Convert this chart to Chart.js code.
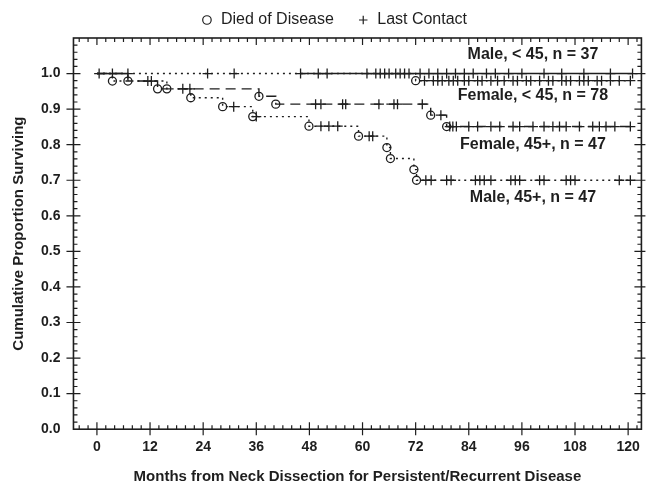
<!DOCTYPE html>
<html>
<head>
<meta charset="utf-8">
<script src="https://cdn.jsdelivr.net/npm/chart.js@4.4.1/dist/chart.umd.min.js"></script>
<style>
  html, body { margin: 0; padding: 0; background: #fff; }
</style>
</head>
<body>
<canvas id="kmChart" width="650" height="486"></canvas>
<script>
// TICK LABELS
const xTicks = [0, 12, 24, 36, 48, 60, 72, 84, 96, 108, 120];
const yTicks = [0, 0.1, 0.2, 0.3, 0.4, 0.5, 0.6, 0.7, 0.8, 0.9, 1.0];

// GROUP NAMES (DRAWN NEXT TO THE CURVES)
const groupNames = ['Male, < 45, n = 37', 'Female, < 45, n = 78', 'Female, 45+, n = 47', 'Male, 45+, n = 47'];

// MALE < 45 : NO DEATHS, ONLY LAST CONTACTS
const maleYoungDeathT = [];
const maleYoungDeathS = [];
const maleYoungCensorT = [0.5, 3.5, 7, 46, 50, 52, 61, 63, 64, 65, 66, 67.5, 68.5, 69.5, 70.5,
  73, 75, 77, 79, 81, 83, 85, 88, 90, 93, 96, 101, 105, 110, 116, 121];

// FEMALE < 45
const femaleYoungDeathT = [72];
const femaleYoungDeathS = [0.98];
const femaleYoungCensorT = [25, 31, 74, 76, 77, 78, 79.5, 80.5, 81.5, 83, 84, 86, 87, 89, 90.5, 92, 94, 95,
  97, 98, 100, 102, 103, 105, 106, 107, 109, 110, 111, 113, 114, 116, 118, 120.5];

// FEMALE 45+
const femaleOldDeathT = [7, 13.7, 36.6, 40.4, 75.4, 79];
const femaleOldDeathS = [0.979, 0.957, 0.936, 0.914, 0.883, 0.851];
const femaleOldCensorT = [11.5, 12.3, 19.4, 21, 49.4, 50.6, 55.5, 56.2, 63.7, 67.1, 67.9, 73.5, 77.7,
  79.7, 80.4, 81.2, 84, 86, 89, 91, 94, 95.5, 98.5, 101, 103, 104.5, 106, 109, 112, 113.5, 115, 117, 120.5];

// MALE 45+
const maleOldDeathT = [3.5, 15.8, 21.2, 28.4, 35.2, 47.9, 59.1, 65.5, 66.3, 71.6, 72.2];
const maleOldDeathS = [0.979, 0.957, 0.932, 0.907, 0.879, 0.852, 0.824, 0.792, 0.761, 0.730, 0.700];
const maleOldCensorT = [30.9, 36, 50.6, 52.4, 54.4, 61.5, 62.3, 74.3, 75.5, 79, 80, 85.5, 86.5, 87.5, 89,
  93.5, 94.5, 95.5, 100, 101, 106, 107, 108, 118, 120.5];

// PART OF THE MALE < 45 LINE THAT IS NOT VISIBLE IN THE ORIGINAL
const maleYoungHidden = [7, 46];

const fontFamily = '"Liberation Sans", Arial, Helvetica, sans-serif';
const ink = '#1e1e1e';

// BUILD KAPLAN-MEIER POINTS: DEATHS SET THE LEVEL, CENSORS SIT ON THE CURRENT LEVEL
function kmPoints(deathT, deathS, censorT) {
  const pts = [{ x: 0, y: 1, kind: 's' }];
  deathT.forEach((t, i) => pts.push({ x: t, y: deathS[i], kind: 'd' }));
  censorT.forEach(t => pts.push({ x: t, y: null, kind: 'c' }));
  pts.sort((a, b) => a.x - b.x);
  let level = 1;
  pts.forEach(p => {
    if (p.kind === 'd') level = p.y;
    else if (p.kind === 'c') p.y = level;
  });
  return pts;
}

function kmDataset(label, pts, dash, extra) {
  return Object.assign({
    label,
    data: pts,
    stepped: 'before',
    borderColor: ink,
    borderWidth: 1.4,
    borderDash: dash,
    fill: false,
    pointStyle: c => c.raw.kind === 'd' ? 'circle' : (c.raw.kind === 'c' ? 'cross' : false),
    pointRadius: c => c.raw.kind === 'd' ? 4 : (c.raw.kind === 'c' ? 5 : 0),
    pointBorderColor: ink,
    pointBackgroundColor: 'rgba(0,0,0,0)',
    pointBorderWidth: 1.3,
  }, extra || {});
}

// NUDGE THE LEGEND A LITTLE TO THE RIGHT, LIKE THE ORIGINAL
const legendShift = {
  id: 'legendShift',
  afterLayout(chart) {
    if (chart.legend) {
      chart.legend.left += 13;
      chart.legend.right += 13;
    }
  }
};

// FRAME + TICK MARKS ON ALL FOUR SIDES
const frameTicks = {
  id: 'frameTicks',
  afterDatasetsDraw(chart) {
    const { ctx, chartArea: a, scales: { x, y } } = chart;
    ctx.save();
    ctx.strokeStyle = ink;
    ctx.lineWidth = 1.6;
    ctx.strokeRect(a.left, a.top, a.right - a.left, a.bottom - a.top);
    ctx.lineWidth = 1.2;
    ctx.beginPath();
    for (let m = -4; m <= 122; m += 2) {
      const px = x.getPixelForValue(m);
      const major = m % 12 === 0 && m >= 0;
      ctx.moveTo(px, a.bottom + (major ? 6 : 0));
      ctx.lineTo(px, a.bottom - (major ? 7 : 4));
      ctx.moveTo(px, a.top);
      ctx.lineTo(px, a.top + (major ? 7 : 4));
    }
    for (let k = 1; k <= 54; k++) {
      const v = k * 0.02;
      const py = y.getPixelForValue(v);
      const major = k % 5 === 0 && k <= 50;
      ctx.moveTo(a.left - (major ? 7 : 0), py);
      ctx.lineTo(a.left + (major ? 7 : 4), py);
      ctx.moveTo(a.right + (major ? 4 : 0), py);
      ctx.lineTo(a.right - (major ? 7 : 4), py);
    }
    ctx.stroke();

    // GROUP NAMES
    const labelX = 98.5;
    const labelY = [1.052, 0.937, 0.801, 0.652];
    ctx.fillStyle = ink;
    ctx.font = 'bold 16px ' + fontFamily;
    ctx.textAlign = 'center';
    ctx.textBaseline = 'middle';
    groupNames.forEach((g, i) => {
      ctx.fillText(g, x.getPixelForValue(labelX), y.getPixelForValue(labelY[i]));
    });
    ctx.restore();
  }
};

const ctx = document.getElementById('kmChart').getContext('2d');
new Chart(ctx, {
  type: 'line',
  data: {
    datasets: [
      kmDataset(groupNames[0], kmPoints(maleYoungDeathT, maleYoungDeathS, maleYoungCensorT), [], {
        segment: {
          borderColor: c => (c.p0.parsed.x >= maleYoungHidden[0] && c.p1.parsed.x <= maleYoungHidden[1]) ? 'rgba(0,0,0,0)' : undefined
        }
      }),
      kmDataset(groupNames[1], kmPoints(femaleYoungDeathT, femaleYoungDeathS, femaleYoungCensorT), [2, 4]),
      kmDataset(groupNames[2], kmPoints(femaleOldDeathT, femaleOldDeathS, femaleOldCensorT), [10, 6]),
      kmDataset(groupNames[3], kmPoints(maleOldDeathT, maleOldDeathS, maleOldCensorT), [2, 4])
    ]
  },
  options: {
    responsive: false,
    animation: false,
    layout: { padding: { left: 0, right: 8, top: 2, bottom: 0 } },
    plugins: {
      tooltip: { enabled: false },
      legend: {
        position: 'top',
        labels: {
          usePointStyle: true,
          boxWidth: 12,
          boxHeight: 6,
          padding: 10,
          color: ink,
          font: { family: fontFamily, size: 16 },
          generateLabels: () => [
            { text: 'Died of Disease\u00a0\u00a0\u00a0', pointStyle: 'circle', fillStyle: 'rgba(0,0,0,0)', strokeStyle: ink, lineWidth: 1.2, fontColor: ink },
            { text: 'Last Contact', pointStyle: 'cross', fillStyle: 'rgba(0,0,0,0)', strokeStyle: ink, lineWidth: 1.2, fontColor: ink }
          ]
        }
      }
    },
    scales: {
      x: {
        type: 'linear',
        min: -5.3,
        max: 123,
        afterBuildTicks: s => { s.ticks = xTicks.map(v => ({ value: v })); },
        grid: { display: false, drawTicks: false },
        border: { display: false },
        ticks: { color: ink, padding: 10, maxRotation: 0, font: { family: fontFamily, size: 14, weight: 'bold' } },
        title: {
          display: true,
          text: 'Months from Neck Dissection for Persistent/Recurrent Disease',
          color: ink,
          padding: { top: 2, bottom: 0 },
          font: { family: fontFamily, size: 15, weight: 'bold' }
        }
      },
      y: {
        type: 'linear',
        min: 0,
        max: 1.1,
        afterBuildTicks: s => { s.ticks = yTicks.map(v => ({ value: v })); },
        grid: { display: false, drawTicks: false },
        border: { display: false },
        ticks: { color: ink, padding: 13, callback: v => v.toFixed(1), font: { family: fontFamily, size: 14, weight: 'bold' } },
        title: {
          display: true,
          text: 'Cumulative Proportion Surviving',
          color: ink,
          padding: { top: 10, bottom: 0 },
          font: { family: fontFamily, size: 15, weight: 'bold' }
        }
      }
    }
  },
  plugins: [frameTicks, legendShift]
});
</script>
</body>
</html>
